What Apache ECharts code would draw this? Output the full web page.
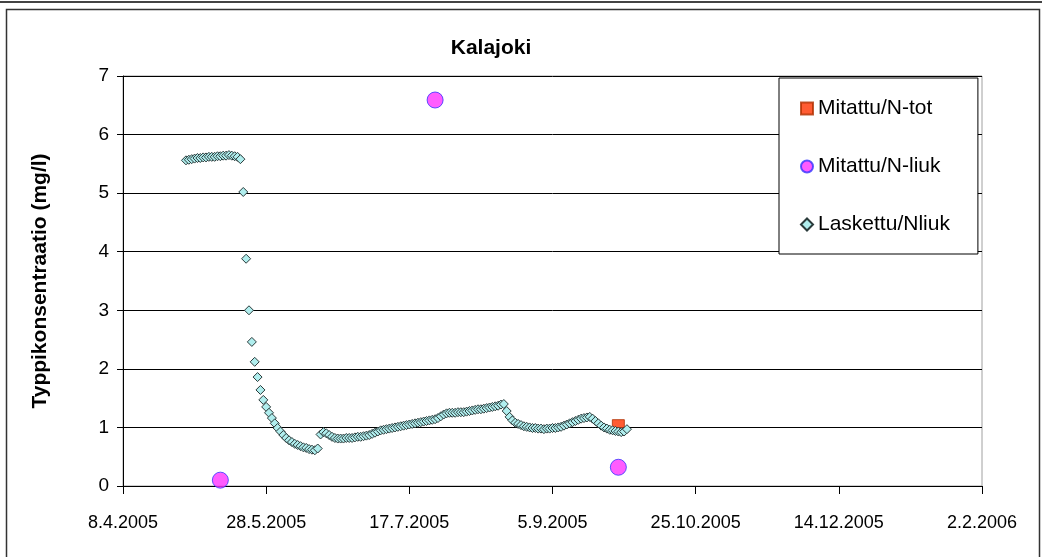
<!DOCTYPE html>
<html>
<head>
<meta charset="utf-8">
<script src="https://cdn.jsdelivr.net/npm/echarts@6/dist/echarts.min.js"></script>
<style>
html,body{margin:0;padding:0;background:#fff;}
#chart{width:1042px;height:557px;}
</style>
</head>
<body>
<div id="chart"></div>
<script>
// ---- data ----
const titleText = 'Kalajoki';
const yAxisTitle = 'Typpikonsentraatio (mg/l)';
const seriesNames = ['Mitattu/N-tot', 'Mitattu/N-liuk', 'Laskettu/Nliuk'];
const xMinDate = '2005-04-08';
const xMaxDate = '2006-02-02';
const xTickDays = 50;
const yTicks = [0, 1, 2, 3, 4, 5, 6, 7];

const nTotDates = ['2005-09-28'];
const nTotValues = [1.03];

const nLiukDates = ['2005-05-12', '2005-07-26', '2005-09-28'];
const nLiukValues = [0.10, 6.59, 0.32];

// daily calculated series, first value on lasStartDate
const lasStartDate = '2005-04-30';
const lasValues = [
  5.56,5.57,5.58,5.59,5.60,5.60,5.61,5.61,5.62,5.62,5.62,5.63,5.63,5.64,5.64,5.65,5.64,5.63,5.62,5.58,
  5.02,3.88,3.00,2.46,2.12,1.86,1.64,1.47,1.35,1.25,1.16,1.07,0.99,0.93,0.87,0.82,0.78,0.75,0.72,0.70,
  0.68,0.66,0.65,0.63,0.62,0.61,0.64,
  0.88,0.92,0.90,0.87,0.84,0.82,0.81,0.81,0.81,0.82,0.82,0.82,0.83,0.84,0.84,0.85,0.86,0.87,0.89,0.91,
  0.93,0.95,0.96,0.97,0.98,0.99,1.00,1.01,1.02,1.03,1.04,1.05,1.06,1.07,1.08,1.09,1.10,1.11,1.12,1.13,
  1.14,1.16,1.19,1.22,1.24,1.25,1.25,1.25,1.26,1.26,1.26,1.27,1.28,1.29,1.30,1.31,1.31,1.32,1.33,1.34,
  1.35,1.36,1.37,1.39,1.40,1.28,1.18,1.12,1.08,1.06,1.04,1.02,1.01,1.00,0.99,0.99,0.98,0.98,0.97,0.98,
  0.98,0.99,0.99,1.00,1.01,1.03,1.05,1.07,1.09,1.11,1.13,1.15,1.16,1.17,1.18,1.15,1.11,1.07,1.03,1.00,
  0.98,0.96,0.95,0.94,0.93,0.92,0.93,0.97
];

// ---- helpers ----
function serial(s) { // Excel-style day serial
  const p = s.split('-').map(Number);
  return Date.UTC(p[0], p[1] - 1, p[2]) / 86400000 + 25569;
}
function fmtSerial(v) {
  const d = new Date((v - 25569) * 86400000);
  return d.getUTCDate() + '.' + (d.getUTCMonth() + 1) + '.' + d.getUTCFullYear();
}
const lasStart = serial(lasStartDate);
const lasData = lasValues.map((v, i) => [lasStart + i, v]);
const nTotData = nTotDates.map((d, i) => [serial(d), nTotValues[i]]);
const nLiukData = nLiukDates.map((d, i) => [serial(d), nLiukValues[i]]);

const FONT = '"Liberation Sans", Arial, sans-serif';
const chart = echarts.init(document.getElementById('chart'), null, {renderer: 'canvas'});
chart.setOption({
  animation: false,
  backgroundColor: '#fff',
  textStyle: {fontFamily: FONT},
  title: {
    text: titleText, left: 486, top: 33, textAlign: 'center',
    textStyle: {fontFamily: FONT, fontSize: 21, fontWeight: 'bold', color: '#000'}
  },
  grid: {left: 123, right: 60, top: 76, bottom: 71, show: true, borderColor: '#a0a0a0', borderWidth: 1, backgroundColor: 'transparent'},
  legend: {
    orient: 'vertical', left: 779, top: 78,
    padding: [20, 28, 19, 21],
    itemGap: 37, itemWidth: 12, itemHeight: 12,
    backgroundColor: '#fff', borderColor: '#000', borderWidth: 1,
    textStyle: {fontFamily: FONT, fontSize: 21, color: '#000'},
    data: [
      {name: seriesNames[0], icon: 'rect'},
      {name: seriesNames[1], icon: 'circle'},
      {name: seriesNames[2], icon: 'diamond'}
    ]
  },
  xAxis: {
    type: 'value', min: serial(xMinDate), max: serial(xMaxDate), interval: xTickDays,
    axisLine: {show: true, lineStyle: {color: '#000', width: 1}},
    axisTick: {show: true, length: 8, lineStyle: {color: '#000'}},
    splitLine: {show: false},
    axisLabel: {fontFamily: FONT, fontSize: 18, color: '#000', margin: 28, formatter: fmtSerial}
  },
  yAxis: {
    type: 'value', min: yTicks[0], max: yTicks[yTicks.length - 1], interval: 1,
    name: yAxisTitle, nameLocation: 'middle', nameGap: 72, nameRotate: 90,
    nameTextStyle: {fontFamily: FONT, fontSize: 21, fontWeight: 'bold', color: '#000'},
    axisLine: {show: true, lineStyle: {color: '#000', width: 1}},
    axisTick: {show: true, length: 6, lineStyle: {color: '#000'}},
    splitLine: {show: true, lineStyle: {color: '#000', width: 1}},
    axisLabel: {fontFamily: FONT, fontSize: 19, color: '#000', margin: 14}
  },
  series: [
    {name: seriesNames[0], type: 'scatter', data: nTotData, symbol: 'rect', symbolSize: 12,
     itemStyle: {color: '#ff3300', borderColor: '#b03000', borderWidth: 1}},
    {name: seriesNames[1], type: 'scatter', data: nLiukData, symbol: 'circle', symbolSize: 16,
     itemStyle: {color: '#ff33ff', borderColor: '#3333ff', borderWidth: 1}},
    {name: seriesNames[2], type: 'scatter', data: lasData, symbol: 'diamond', symbolSize: 9,
     itemStyle: {color: '#b0eeee', borderColor: '#2a3a3a', borderWidth: 1, opacity: 1}}
  ],
  graphic: [
    {type: 'line', silent: true, shape: {x1: 0, y1: 2, x2: 1042, y2: 2}, style: {stroke: '#444', lineWidth: 2}},
    {type: 'rect', silent: true, shape: {x: 6.5, y: 9.5, width: 1033, height: 600}, style: {fill: 'none', stroke: '#333', lineWidth: 1.5}}
  ]
});
</script>
</body>
</html>
